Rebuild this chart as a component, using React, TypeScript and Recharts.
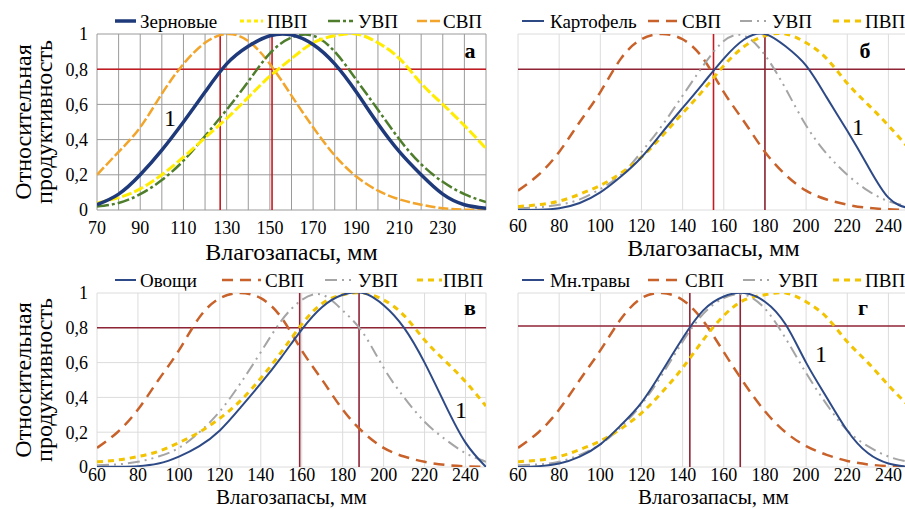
import React from "react";
import { LineChart, Line, XAxis, YAxis, CartesianGrid, ReferenceLine } from "recharts";

// влагозапасы, мм
const xGrain = [70, 80, 90, 100, 110, 120, 130, 140, 150, 160, 170, 180, 190, 200, 210, 220, 230, 240, 250];
const xMain = [60, 70, 80, 90, 100, 110, 120, 130, 140, 150, 160, 170, 180, 190, 200, 210, 220, 230, 240, 250];

// а — зерновые
const grainCrop = [0.03, 0.09, 0.2, 0.34, 0.5, 0.67, 0.83, 0.93, 0.99, 0.995, 0.94, 0.83, 0.67, 0.49, 0.33, 0.2, 0.09, 0.03, 0.01];
const grainPvp = [0.04, 0.07, 0.12, 0.2, 0.3, 0.41, 0.52, 0.64, 0.76, 0.86, 0.95, 0.99, 1.0, 0.95, 0.86, 0.72, 0.6, 0.48, 0.35];
const grainUvp = [0.02, 0.04, 0.09, 0.17, 0.28, 0.42, 0.57, 0.73, 0.89, 0.98, 0.99, 0.9, 0.74, 0.57, 0.4, 0.26, 0.16, 0.09, 0.045];
const grainSvp = [0.2, 0.33, 0.47, 0.66, 0.83, 0.95, 1.0, 0.96, 0.83, 0.65, 0.47, 0.31, 0.19, 0.11, 0.06, 0.03, 0.01, 0.003, 0];

// б — картофель
const potatoCrop = [0, 0.002, 0.01, 0.04, 0.1, 0.19, 0.3, 0.44, 0.58, 0.72, 0.86, 0.97, 1.0, 0.93, 0.82, 0.64, 0.45, 0.25, 0.07, 0.01];
const potatoSvp = [0.11, 0.2, 0.33, 0.5, 0.67, 0.86, 0.97, 1.0, 0.97, 0.86, 0.67, 0.5, 0.33, 0.2, 0.11, 0.06, 0.03, 0.012, 0.004, 0];
const potatoUvp = [0.01, 0.015, 0.03, 0.06, 0.12, 0.2, 0.33, 0.48, 0.65, 0.82, 0.96, 0.99, 0.88, 0.69, 0.48, 0.32, 0.2, 0.11, 0.05, 0.02];
const potatoPvp = [0.02, 0.03, 0.05, 0.09, 0.14, 0.21, 0.3, 0.42, 0.55, 0.68, 0.82, 0.93, 0.99, 1.0, 0.95, 0.86, 0.72, 0.6, 0.48, 0.35];

// в — овощи
const vegCrop = [0, 0.002, 0.005, 0.02, 0.06, 0.12, 0.21, 0.34, 0.48, 0.63, 0.79, 0.92, 0.99, 1.0, 0.93, 0.8, 0.6, 0.36, 0.14, 0];
const vegSvp = [0.11, 0.2, 0.33, 0.5, 0.67, 0.86, 0.97, 1.0, 0.97, 0.86, 0.67, 0.5, 0.33, 0.2, 0.11, 0.06, 0.03, 0.012, 0.004, 0];
const vegUvp = [0.01, 0.015, 0.03, 0.06, 0.11, 0.2, 0.32, 0.48, 0.66, 0.84, 0.96, 0.99, 0.9, 0.77, 0.57, 0.4, 0.26, 0.16, 0.08, 0.03];
const vegPvp = [0.03, 0.04, 0.06, 0.09, 0.14, 0.2, 0.28, 0.38, 0.51, 0.66, 0.82, 0.94, 0.99, 1.0, 0.96, 0.87, 0.73, 0.61, 0.49, 0.35];

// г — многолетние травы
const grassCrop = [0, 0.005, 0.02, 0.06, 0.13, 0.24, 0.37, 0.55, 0.74, 0.9, 0.98, 1.0, 0.95, 0.82, 0.6, 0.4, 0.21, 0.08, 0.02, 0];
const grassSvp = [0.11, 0.2, 0.33, 0.5, 0.67, 0.85, 0.97, 1.0, 0.96, 0.84, 0.66, 0.48, 0.32, 0.2, 0.12, 0.07, 0.035, 0.015, 0.005, 0];
const grassUvp = [0.01, 0.015, 0.03, 0.07, 0.13, 0.23, 0.36, 0.53, 0.72, 0.88, 0.97, 0.99, 0.91, 0.74, 0.54, 0.36, 0.21, 0.12, 0.06, 0.03];
const grassPvp = [0.03, 0.04, 0.06, 0.1, 0.15, 0.22, 0.31, 0.43, 0.57, 0.73, 0.87, 0.96, 0.99, 1.0, 0.95, 0.86, 0.72, 0.6, 0.47, 0.35];

const gridGrain = [70, 80, 90, 100, 110, 120, 130, 140, 150, 160, 170, 180, 190, 200, 210, 220, 230, 240, 250];
const labelsGrain = [70, 90, 110, 130, 150, 170, 190, 210, 230];
const gridMain = [60, 80, 100, 120, 140, 160, 180, 200, 220, 240];
const yTicks = [0, 0.2, 0.4, 0.6, 0.8, 1];

// границы оптимума
const limitsA = [127, 151];
const limitsB = [155, 180];
const limitsC = [159, 188];
const limitsD = [143.5, 168];

const legendA = ["Зерновые", "ПВП", "УВП", "СВП"];
const legendB = ["Картофель", "СВП", "УВП", "ПВП"];
const legendC = ["Овощи", "СВП", "УВП", "ПВП"];
const legendD = ["Мн.травы", "СВП", "УВП", "ПВП"];

type Style = { stroke: string; width: number; dash?: string };

const A_STYLE: Record<string, Style> = {
  crop: { stroke: "#1F3A7A", width: 3.5 },
  pvp: { stroke: "#FFEC00", width: 3, dash: "10 3" },
  uvp: { stroke: "#4E7D2C", width: 2.5, dash: "12 3 3 3" },
  svp: { stroke: "#F2A52A", width: 2.5, dash: "10 3" },
};
const M_STYLE: Record<string, Style> = {
  crop: { stroke: "#2E4A86", width: 2 },
  svp: { stroke: "#C8622A", width: 2.5, dash: "11 7" },
  uvp: { stroke: "#A5A5A5", width: 2, dash: "12 5 2 5 2 5" },
  pvp: { stroke: "#F2C300", width: 3, dash: "6 5" },
};

const fmtY = (v: number) => (v === 0 || v === 1 ? String(v) : v.toFixed(1).replace(".", ","));

const ML = 97;
const MT = 34;
const AX = 30;
const MB = 34;
const MR = 4;

type PanelProps = {
  left: number;
  top: number;
  plotW: number;
  plotH: number;
  xs: number[];
  domain: [number, number];
  ticks: number[];
  labels: number[];
  grid: string;
  series: { key: string; values: number[]; style: Style }[];
  limits: number[];
  hLine: number;
  hColor: string;
  vColors: string[];
  showY: boolean;
  tickGap: number;
  titleOffset: number;
  titleSize: number;
};

function Panel(p: PanelProps) {
  const data = p.xs.map((x, i) => {
    const row: Record<string, number> = { x };
    p.series.forEach((s) => (row[s.key] = s.values[i]));
    return row;
  });
  return (
    <div style={{ position: "absolute", left: p.left - ML, top: p.top - MT }}>
      <LineChart
        width={ML + p.plotW + MR}
        height={MT + p.plotH + AX + MB}
        data={data}
        margin={{ top: MT, right: MR, bottom: MB, left: p.showY ? ML - 40 : ML }}
      >
        <CartesianGrid stroke={p.grid} strokeWidth={1} />
        <XAxis
          dataKey="x"
          type="number"
          domain={p.domain}
          ticks={p.ticks}
          interval={0}
          allowDataOverflow
          tickFormatter={(v: number) => (p.labels.includes(v) ? String(v) : "")}
          tickLine={false}
          axisLine={false}
          tickSize={0}
          tickMargin={p.tickGap}
          height={AX}
          tick={{ fontSize: 18, fill: "#000" }}
          label={{ value: "Влагозапасы, мм", position: "bottom", offset: p.titleOffset, fontSize: p.titleSize, fill: "#000" }}
        />
        <YAxis
          type="number"
          domain={[0, 1]}
          ticks={yTicks}
          interval={0}
          allowDataOverflow
          width={p.showY ? 40 : 0}
          tick={p.showY ? { fontSize: 18, fill: "#000" } : false}
          tickFormatter={fmtY}
          tickLine={false}
          axisLine={false}
          tickSize={0}
          tickMargin={9}
        />
        <ReferenceLine y={p.hLine} stroke={p.hColor} strokeWidth={1.6} />
        {p.limits.map((v, i) => (
          <ReferenceLine key={v} x={v} stroke={p.vColors[i]} strokeWidth={1.6} />
        ))}
        {p.series.map((s) => (
          <Line
            key={s.key}
            dataKey={s.key}
            type="natural"
            stroke={s.style.stroke}
            strokeWidth={s.style.width}
            strokeDasharray={s.style.dash}
            dot={false}
            isAnimationActive={false}
          />
        ))}
      </LineChart>
    </div>
  );
}

type LegendLayout = { lines: [number, number][]; texts: number[]; y: number };

function LegendRow({ labels, styles, layout }: { labels: string[]; styles: Style[]; layout: LegendLayout }) {
  return (
    <g>
      {labels.map((lab, i) => (
        <g key={lab + i}>
          <line
            x1={layout.lines[i][0]}
            x2={layout.lines[i][1]}
            y1={layout.y}
            y2={layout.y}
            stroke={styles[i].stroke}
            strokeWidth={styles[i].width}
            strokeDasharray={styles[i].dash}
          />
          <text x={layout.texts[i]} y={layout.y + 6.5} fontSize={19} fill="#000">
            {lab}
          </text>
        </g>
      ))}
    </g>
  );
}

function YTitle({ cy }: { cy: number }) {
  return (
    <g fontSize={24} fill="#000" textAnchor="middle">
      <text x={31} y={cy} transform={`rotate(-90 31 ${cy})`}>Относительная</text>
      <text x={52} y={cy} transform={`rotate(-90 52 ${cy})`}>продуктивность</text>
    </g>
  );
}

export default function App() {
  const red = "#C41A22";
  const maroon = "#8E2435";
  return (
    <div
      style={{
        position: "fixed",
        left: 0,
        top: 0,
        width: 905,
        height: 509,
        overflow: "hidden",
        background: "#fff",
        fontFamily: '"Liberation Serif", "Times New Roman", serif',
      }}
    >
      <Panel
        left={97} top={34} plotW={389} plotH={176}
        xs={xGrain} domain={[70, 250]} ticks={gridGrain} labels={labelsGrain} grid="#9A9A9A"
        series={[
          { key: "svp", values: grainSvp, style: A_STYLE.svp },
          { key: "uvp", values: grainUvp, style: A_STYLE.uvp },
          { key: "pvp", values: grainPvp, style: A_STYLE.pvp },
          { key: "crop", values: grainCrop, style: A_STYLE.crop },
        ]}
        limits={limitsA} hLine={0.8} hColor={red} vColors={[red, red]}
        showY tickGap={11} titleOffset={3} titleSize={24}
      />
      <Panel
        left={518} top={34} plotW={391} plotH={176}
        xs={xMain} domain={[60, 250]} ticks={gridMain} labels={gridMain} grid="#DCDCDC"
        series={[
          { key: "svp", values: potatoSvp, style: M_STYLE.svp },
          { key: "uvp", values: potatoUvp, style: M_STYLE.uvp },
          { key: "pvp", values: potatoPvp, style: M_STYLE.pvp },
          { key: "crop", values: potatoCrop, style: M_STYLE.crop },
        ]}
        limits={limitsB} hLine={0.8} hColor={maroon} vColors={[red, maroon]}
        showY={false} tickGap={9} titleOffset={-1} titleSize={24}
      />
      <Panel
        left={97} top={293} plotW={389} plotH={174}
        xs={xMain} domain={[60, 250]} ticks={gridMain} labels={gridMain} grid="#DCDCDC"
        series={[
          { key: "svp", values: vegSvp, style: M_STYLE.svp },
          { key: "uvp", values: vegUvp, style: M_STYLE.uvp },
          { key: "pvp", values: vegPvp, style: M_STYLE.pvp },
          { key: "crop", values: vegCrop, style: M_STYLE.crop },
        ]}
        limits={limitsC} hLine={0.8} hColor={maroon} vColors={[maroon, maroon]}
        showY tickGap={1} titleOffset={-8} titleSize={21}
      />
      <Panel
        left={518} top={293} plotW={391} plotH={174}
        xs={xMain} domain={[60, 250]} ticks={gridMain} labels={gridMain} grid="#DCDCDC"
        series={[
          { key: "svp", values: grassSvp, style: M_STYLE.svp },
          { key: "uvp", values: grassUvp, style: M_STYLE.uvp },
          { key: "pvp", values: grassPvp, style: M_STYLE.pvp },
          { key: "crop", values: grassCrop, style: M_STYLE.crop },
        ]}
        limits={limitsD} hLine={0.81} hColor={maroon} vColors={[maroon, maroon]}
        showY={false} tickGap={1} titleOffset={-8} titleSize={21}
      />

      <svg width={905} height={509} style={{ position: "absolute", left: 0, top: 0, pointerEvents: "none" }}>
        <YTitle cy={122} />
        <YTitle cy={380} />

        <LegendRow
          labels={legendA}
          styles={[A_STYLE.crop, { ...A_STYLE.pvp, dash: "4 3" }, A_STYLE.uvp, A_STYLE.svp]}
          layout={{ lines: [[115, 136], [240, 263], [328, 353], [417, 440]], texts: [140, 267, 358, 443], y: 21 }}
        />
        <LegendRow
          labels={legendB}
          styles={[M_STYLE.crop, M_STYLE.svp, M_STYLE.uvp, M_STYLE.pvp]}
          layout={{ lines: [[522, 544], [648, 678], [740, 768], [833, 861]], texts: [550, 682, 772, 865], y: 21 }}
        />
        <LegendRow
          labels={legendC}
          styles={[M_STYLE.crop, M_STYLE.svp, M_STYLE.uvp, M_STYLE.pvp]}
          layout={{ lines: [[115, 136], [222, 261], [325, 353], [417, 442]], texts: [140, 265, 358, 443], y: 280 }}
        />
        <LegendRow
          labels={legendD}
          styles={[M_STYLE.crop, M_STYLE.svp, M_STYLE.uvp, M_STYLE.pvp]}
          layout={{ lines: [[522, 544], [648, 681], [743, 772], [833, 861]], texts: [550, 685, 778, 865], y: 280 }}
        />

        <g fontSize={22} fontWeight="bold" fill="#000" textAnchor="middle">
          <text x={470} y={58}>а</text>
          <text x={865} y={58}>б</text>
          <text x={470} y={315}>в</text>
          <text x={863} y={315}>г</text>
        </g>
        <g fontSize={24} fill="#000" textAnchor="middle">
          <text x={170} y={126}>1</text>
          <text x={858} y={135}>1</text>
          <text x={461} y={418}>1</text>
          <text x={821} y={362}>1</text>
        </g>
      </svg>
    </div>
  );
}
